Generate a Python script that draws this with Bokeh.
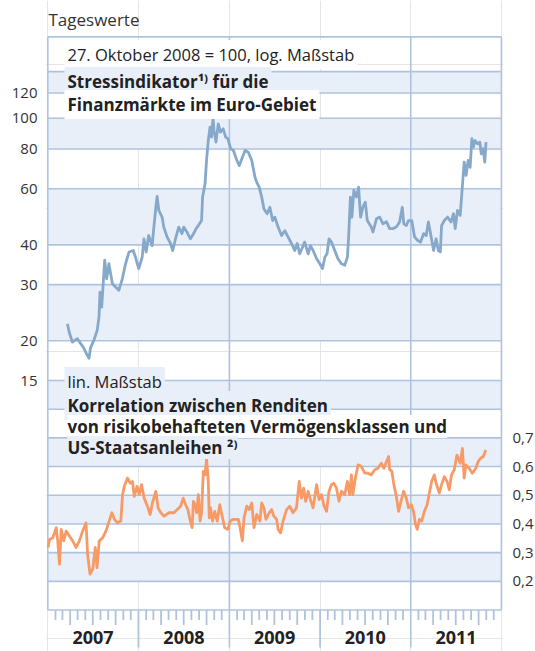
import math
import numpy as np
import pandas as pd
from bokeh.plotting import figure
from bokeh.models import Range1d, LinearAxis, LogAxis, LogScale, FixedTicker, Label
from bokeh.embed import file_html
from bokeh.resources import INLINE
from bokeh.core.properties import value

# ---------------- data ----------------
stress_dates = [
    "2007-03-21", "2007-03-28", "2007-04-10", "2007-04-30", "2007-05-13", "2007-05-27", "2007-06-09",
    "2007-06-16", "2007-06-22", "2007-07-06", "2007-07-19", "2007-07-26", "2007-07-30", "2007-08-06",
    "2007-08-12", "2007-08-18", "2007-08-26", "2007-09-04", "2007-09-18", "2007-10-01", "2007-10-14",
    "2007-10-28", "2007-11-10", "2007-11-24", "2007-12-11", "2007-12-20",
    "2008-01-02", "2008-01-16", "2008-01-23", "2008-02-01", "2008-02-11", "2008-02-25", "2008-03-03",
    "2008-03-11", "2008-03-16", "2008-03-23", "2008-04-05", "2008-04-12", "2008-04-25", "2008-05-09",
    "2008-05-18", "2008-05-29", "2008-06-11", "2008-06-24", "2008-07-01", "2008-07-14", "2008-07-28",
    "2008-08-10", "2008-08-20", "2008-08-29", "2008-09-11", "2008-09-15", "2008-09-25", "2008-10-01",
    "2008-10-08", "2008-10-15", "2008-10-21", "2008-10-27", "2008-10-31", "2008-11-08", "2008-11-17",
    "2008-11-26", "2008-12-07", "2008-12-17", "2008-12-26",
    "2009-01-06", "2009-01-17", "2009-01-31", "2009-02-10", "2009-02-20", "2009-03-05", "2009-03-18",
    "2009-04-01", "2009-04-14", "2009-04-21", "2009-05-01", "2009-05-11", "2009-05-20", "2009-06-02",
    "2009-06-13", "2009-06-24", "2009-07-03", "2009-07-16", "2009-07-30", "2009-08-12", "2009-08-25",
    "2009-09-08", "2009-09-21", "2009-10-01", "2009-10-11", "2009-10-31", "2009-11-14", "2009-11-23",
    "2009-12-04", "2009-12-18", "2009-12-31",
    "2010-01-11", "2010-01-20", "2010-01-29", "2010-02-06", "2010-02-16", "2010-03-01", "2010-03-14",
    "2010-03-28", "2010-04-10", "2010-04-21", "2010-04-26", "2010-05-03", "2010-05-09", "2010-05-17",
    "2010-05-27", "2010-06-05", "2010-06-13", "2010-06-22", "2010-07-02", "2010-07-10", "2010-07-26",
    "2010-08-02", "2010-08-16", "2010-08-29", "2010-09-11", "2010-09-25", "2010-10-08", "2010-10-21",
    "2010-11-04", "2010-11-17", "2010-11-28", "2010-12-04", "2010-12-14", "2010-12-23",
    "2011-01-05", "2011-01-16", "2011-01-29", "2011-02-09", "2011-02-22", "2011-03-04", "2011-03-13",
    "2011-03-24", "2011-04-03", "2011-04-13", "2011-04-22", "2011-04-30", "2011-05-05", "2011-05-16",
    "2011-05-29", "2011-06-12", "2011-06-22", "2011-06-29", "2011-07-08", "2011-07-19", "2011-07-27",
    "2011-08-04", "2011-08-12", "2011-08-20", "2011-08-28", "2011-09-04", "2011-09-10", "2011-09-17",
    "2011-09-26", "2011-10-06", "2011-10-12", "2011-10-19", "2011-10-26", "2011-10-31",
]
stress_values = [
    22.6, 21.3, 19.8, 20.3, 19.6, 18.9, 18.0,
    17.6, 19.0, 20.1, 21.6, 23.7, 28.4, 25.5,
    30.2, 35.8, 31.3, 34.9, 30.2, 29.5, 28.8,
    31.3, 34.9, 38.0, 38.4, 36.6,
    33.7, 36.6, 41.8, 38.0, 42.8, 39.8, 45.5,
    52.5, 56.8, 51.3, 48.9, 45.5, 42.4, 40.4,
    38.4, 41.8, 45.5, 43.4, 45.5, 43.9, 41.8,
    43.4, 45.0, 46.0, 47.7, 56.5, 62.2, 73.7,
    85.1, 93.7, 87.2, 100.0, 91.5, 84.1, 96.0,
    90.4, 92.6, 87.2, 86.2,
    80.2, 79.2, 73.7, 71.0, 74.6, 79.2, 78.2,
    73.7, 65.2, 62.9, 60.7, 56.5, 51.9, 50.1,
    52.5, 47.7, 48.9, 45.5, 42.8, 44.3, 42.4,
    40.4, 38.4, 40.4, 37.5, 40.8, 37.5, 39.8,
    38.4, 36.2, 34.9,
    33.7, 36.6, 37.5, 41.8, 40.8, 38.4, 36.2,
    34.9, 34.5, 36.6, 42.4, 56.5, 48.9, 59.3,
    56.5, 60.7, 48.9, 52.5, 54.5, 47.7, 45.5,
    43.9, 48.3, 48.9, 46.6, 47.3, 45.0, 45.0,
    45.5, 47.2, 52.5, 46.6, 46.0, 47.7,
    47.7, 42.4, 41.3, 40.8, 43.4, 42.8, 47.2,
    42.4, 38.4, 41.8, 38.4, 38.0, 46.0, 47.7,
    48.9, 47.2, 50.1, 45.0, 51.3, 49.5, 60.0,
    72.8, 66.1, 73.7, 70.1, 86.2, 81.1, 85.1,
    83.1, 84.1, 77.3, 80.2, 72.8, 84.1,
]

corr_dates = [
    "2007-01-02", "2007-01-08", "2007-01-21", "2007-02-04", "2007-02-10", "2007-02-17", "2007-02-24",
    "2007-03-06", "2007-03-16", "2007-03-29", "2007-04-11", "2007-04-25", "2007-05-08", "2007-05-21",
    "2007-06-04", "2007-06-10", "2007-06-20", "2007-07-01", "2007-07-11", "2007-07-18", "2007-07-27",
    "2007-08-10", "2007-08-23", "2007-09-05", "2007-09-16", "2007-09-26", "2007-10-09", "2007-10-22",
    "2007-10-29", "2007-11-05", "2007-11-18", "2007-11-29", "2007-12-08", "2007-12-15", "2007-12-26",
    "2008-01-04", "2008-01-13", "2008-01-24", "2008-02-06", "2008-02-17", "2008-02-26", "2008-03-11",
    "2008-03-20", "2008-03-31", "2008-04-13", "2008-05-03", "2008-05-23", "2008-06-05", "2008-06-19",
    "2008-06-29", "2008-07-09", "2008-07-18", "2008-07-26", "2008-08-04", "2008-08-09", "2008-08-16",
    "2008-08-22", "2008-08-29", "2008-09-05", "2008-09-11", "2008-09-18", "2008-09-25", "2008-10-01",
    "2008-10-08", "2008-10-12", "2008-10-17", "2008-10-25", "2008-11-03", "2008-11-13", "2008-11-23",
    "2008-12-03", "2008-12-13", "2008-12-26",
    "2009-01-04", "2009-01-17", "2009-02-06", "2009-02-13", "2009-02-22", "2009-03-01", "2009-03-12",
    "2009-03-22", "2009-04-01", "2009-04-10", "2009-04-21", "2009-05-04", "2009-05-11", "2009-05-20",
    "2009-05-28", "2009-06-10", "2009-06-20", "2009-06-29", "2009-07-10", "2009-07-16", "2009-07-26",
    "2009-08-05", "2009-08-19", "2009-09-01", "2009-09-14", "2009-09-28", "2009-10-09", "2009-10-18",
    "2009-10-27", "2009-11-04", "2009-11-14", "2009-11-23", "2009-12-04", "2009-12-18", "2009-12-28",
    "2010-01-07", "2010-01-17", "2010-01-27", "2010-02-06", "2010-02-16", "2010-02-25", "2010-03-08",
    "2010-03-18", "2010-03-28", "2010-04-10", "2010-04-21", "2010-04-30", "2010-05-07", "2010-05-13",
    "2010-05-23", "2010-06-03", "2010-06-16", "2010-06-30", "2010-07-13", "2010-07-26", "2010-08-09",
    "2010-08-22", "2010-09-04", "2010-09-15", "2010-09-25", "2010-10-04", "2010-10-08", "2010-10-17",
    "2010-10-25", "2010-11-04", "2010-11-13", "2010-11-21", "2010-12-03", "2010-12-14", "2010-12-23",
    "2011-01-03", "2011-01-12", "2011-01-20", "2011-01-27", "2011-02-05", "2011-02-14", "2011-02-25",
    "2011-03-08", "2011-03-17", "2011-03-26", "2011-04-06", "2011-04-13", "2011-04-26", "2011-05-05",
    "2011-05-16", "2011-05-27", "2011-06-05", "2011-06-14", "2011-06-25", "2011-07-06", "2011-07-11",
    "2011-07-19", "2011-07-28", "2011-08-04", "2011-08-11", "2011-08-24", "2011-09-06", "2011-09-20",
    "2011-09-29", "2011-10-09", "2011-10-20", "2011-10-30",
]
corr_values = [
    0.318, 0.346, 0.352, 0.387, 0.341, 0.260, 0.381,
    0.341, 0.375, 0.358, 0.341, 0.318, 0.341, 0.375,
    0.404, 0.295, 0.225, 0.243, 0.318, 0.248, 0.341,
    0.352, 0.375, 0.410, 0.439, 0.416, 0.404, 0.410,
    0.502, 0.531, 0.560, 0.542, 0.548, 0.496, 0.531,
    0.502, 0.537, 0.490, 0.462, 0.433, 0.473, 0.514,
    0.456, 0.439, 0.427, 0.439, 0.439, 0.450, 0.462,
    0.490, 0.467, 0.450, 0.416, 0.387, 0.479, 0.467,
    0.439, 0.502, 0.410, 0.439, 0.583, 0.571, 0.629,
    0.548, 0.421, 0.456, 0.410, 0.444, 0.410, 0.467,
    0.427, 0.387, 0.381,
    0.410, 0.416, 0.416, 0.387, 0.341, 0.421, 0.462,
    0.450, 0.473, 0.387, 0.433, 0.410, 0.473, 0.456,
    0.416, 0.439, 0.450, 0.427, 0.416, 0.381, 0.369,
    0.410, 0.450, 0.462, 0.439, 0.456, 0.548, 0.490,
    0.525, 0.479, 0.514, 0.485, 0.456, 0.537, 0.485,
    0.502, 0.462, 0.444, 0.514, 0.537, 0.542, 0.525,
    0.479, 0.514, 0.502, 0.548, 0.502, 0.571, 0.502,
    0.560, 0.606, 0.600, 0.577, 0.577, 0.571, 0.589,
    0.594, 0.612, 0.594, 0.617, 0.635, 0.589, 0.583,
    0.537, 0.496, 0.444, 0.473, 0.514, 0.490, 0.456,
    0.467, 0.444, 0.398, 0.381, 0.416, 0.410, 0.444,
    0.467, 0.508, 0.548, 0.571, 0.542, 0.508, 0.537,
    0.565, 0.548, 0.519, 0.571, 0.589, 0.640, 0.629,
    0.612, 0.663, 0.560, 0.606, 0.594, 0.577, 0.594,
    0.617, 0.629, 0.635, 0.658,
]

stress_gridlines = [15, 20, 30, 40, 60, 80, 100, 120, 140, 180]   # 180 = top border
stress_ticks = [15, 20, 30, 40, 60, 80, 100, 120]
corr_gridlines = [0.1, 0.2, 0.3, 0.4, 0.5, 0.6, 0.7, 0.8, 0.9]    # 0.1 = bottom border
corr_ticks = [0.2, 0.3, 0.4, 0.5, 0.6, 0.7]
corr_tick_labels = ["0,2", "0,3", "0,4", "0,5", "0,6", "0,7"]
year_labels = ["2007", "2008", "2009", "2010", "2011"]
chart_start, chart_end = "2007-01-01", "2012-01-01"

# ---------------- geometry (page pixels) ----------------
FRAME_L, FRAME_R, FRAME_T, FRAME_B = 45, 503, 0, 651
X_2007, PX_PER_YEAR = 47.3, 90.74
Y_09, PX_PER_UNIT = 380.0, 286.9      # linear scale anchor: 0.9 at y=380
PX_PER_LN = 138.27                    # log scale: 15 at y=380

def date_at(px):
    return pd.Timestamp("2007-01-01") + pd.Timedelta(days=(px - X_2007) / PX_PER_YEAR * 365.25)

def ms(ts):
    return ts.value / 1e6

def lin_at(py):
    return 0.9 + (Y_09 - py) / PX_PER_UNIT

def log_at(py):
    return 15.0 * math.exp((Y_09 - py) / PX_PER_LN)

def log_to_lin(v):
    return 0.9 + PX_PER_LN * math.log(v / 15.0) / PX_PER_UNIT

GRID = "#afc3de"
BAND = "#e9eff8"
BLUE = "#86a8ca"
ORANGE = "#f79a66"
TXT = "#222222"
FONT = "Open Sans"

p = figure(frame_width=FRAME_R - FRAME_L, frame_height=FRAME_B - FRAME_T,
           x_range=Range1d(date_at(FRAME_L), date_at(FRAME_R)),
           y_range=Range1d(lin_at(FRAME_B), lin_at(FRAME_T)),
           x_axis_type="datetime", x_axis_location=None, y_axis_location=None,
           output_backend="svg", toolbar_location=None,
           min_border_left=FRAME_L, min_border_right=0, min_border_top=FRAME_T, min_border_bottom=0)
p.extra_y_ranges = {"log": Range1d(log_at(FRAME_B), log_at(FRAME_T))}
p.extra_y_scales = {"log": LogScale()}
p.outline_line_color = None
p.background_fill_color = "white"
p.border_fill_color = "white"

c0, c1 = pd.Timestamp(chart_start), pd.Timestamp(chart_end)

# alternating bands
lb = corr_gridlines
p.quad(left=c0, right=c1, bottom=lb[1:-1:2], top=lb[2::2], fill_color=BAND, line_color=None)
sb = stress_gridlines
p.quad(left=c0, right=c1, bottom=sb[1:-1:2], top=sb[2::2], fill_color=BAND, line_color=None,
       y_range_name="log")

# horizontal gridlines
n = len(corr_gridlines)
p.segment(x0=[c0] * n, x1=[c1] * n, y0=corr_gridlines, y1=corr_gridlines, line_color=GRID, line_width=1.6)
m = len(stress_gridlines) - 1
p.segment(x0=[c0] * m, x1=[c1] * m, y0=stress_gridlines[1:], y1=stress_gridlines[1:], line_color=GRID,
          line_width=1.6, y_range_name="log")

# left / right border
chart_top = log_to_lin(stress_gridlines[-1])
bottom = corr_gridlines[0]
p.segment(x0=[c0, c1], x1=[c0, c1], y0=[bottom, bottom], y1=[chart_top, chart_top], line_color=GRID,
          line_width=1.6)

# month ticks below the chart
months = pd.date_range(chart_start, "2011-12-01", freq="MS")
ybot = lin_at(647)
minor = [d for d in months if d.month not in (1, 4, 7, 10)]
quarter = [d for d in months if d.month in (4, 7, 10)]
years = [d for d in months if d.month == 1 and d.year > 2007]
yr_ticks = [d for d in years if d.year % 2 == 0]
yr_lines = [d for d in years if d.year % 2 == 1]
p.segment(x0=minor, x1=minor, y0=[bottom] * len(minor), y1=[bottom - 10 / PX_PER_UNIT] * len(minor),
          line_color=GRID, line_width=1.8)
p.segment(x0=quarter, x1=quarter, y0=[bottom] * len(quarter), y1=[bottom - 15 / PX_PER_UNIT] * len(quarter),
          line_color=GRID, line_width=1.8)
p.segment(x0=yr_ticks, x1=yr_ticks, y0=[bottom] * len(yr_ticks), y1=[ybot] * len(yr_ticks),
          line_color=GRID, line_width=1.8)
p.segment(x0=yr_lines, x1=yr_lines, y0=[chart_top] * len(yr_lines), y1=[ybot] * len(yr_lines),
          line_color=GRID, line_width=1.6)

# data
p.line(pd.to_datetime(stress_dates), stress_values, line_color=BLUE, line_width=2.8,
       line_join="round", y_range_name="log")
p.line(pd.to_datetime(corr_dates), corr_values, line_color=ORANGE, line_width=2.8, line_join="round")

# year labels
mid = [pd.Timestamp(f"{y}-07-02") for y in year_labels]
p.text(x=mid, y=[lin_at(637)] * len(mid), text=year_labels, text_font=value(FONT),
       text_font_size=value("18px"), text_font_style="bold", text_color=TXT,
       text_align="center", text_baseline="middle")

# axes
la = LogAxis(y_range_name="log", ticker=FixedTicker(ticks=stress_ticks, minor_ticks=[]))
la.major_label_overrides = {t: str(t) for t in stress_ticks}
ra = LinearAxis(ticker=FixedTicker(ticks=corr_ticks, minor_ticks=[]))
ra.major_label_overrides = dict(zip(corr_ticks, corr_tick_labels))
for ax, standoff in ((la, 8), (ra, 9)):
    ax.axis_line_color = None
    ax.major_tick_line_color = None
    ax.minor_tick_line_color = None
    ax.major_tick_out = 0
    ax.major_tick_in = 0
    ax.major_label_standoff = standoff
    ax.major_label_text_font = FONT
    ax.major_label_text_font_size = "15px"
    ax.major_label_text_color = "#333333"
p.add_layout(la, "left")
p.add_layout(ra, "right")

def add_label(text, px, py, size=16.5, bold=False, bg=None, color=TXT, pad=3):
    # the label box starts at px; the text starts "pad" pixels further right
    lab = Label(x=ms(date_at(px - (pad if bg is not None else 0))), y=lin_at(py), text=text,
                text_font=FONT, text_font_size=f"{size}px",
                text_font_style="bold" if bold else "normal",
                text_color=color, text_align="left", text_baseline="middle")
    if bg is not None:
        lab.background_fill_color = bg
        lab.background_fill_alpha = 1.0
        lab.padding = pad
    p.add_layout(lab)

add_label("Tageswerte", 48, 19, size=17, color="#333333")
add_label("27. Oktober 2008 = 100, log. Maßstab", 67, 54, bg="white")
add_label("Stressindikator\u00b9\u207e für die", 67, 81, size=17, bold=True, bg=BAND)
add_label("Finanzmärkte im Euro-Gebiet", 67, 104, size=17, bold=True, bg="white")
add_label("lin. Maßstab", 67, 381, bg=BAND)
add_label("Korrelation zwischen Renditen", 67, 405, size=17, bold=True, bg=BAND)
add_label("von risikobehafteten Vermögensklassen und", 67, 426, size=17, bold=True, bg="white", pad=0)
add_label("US-Staatsanleihen \u00b2\u207e", 67, 447, size=17, bold=True, bg=BAND, pad=0)

open("out.html", "w").write(file_html(p, INLINE))
